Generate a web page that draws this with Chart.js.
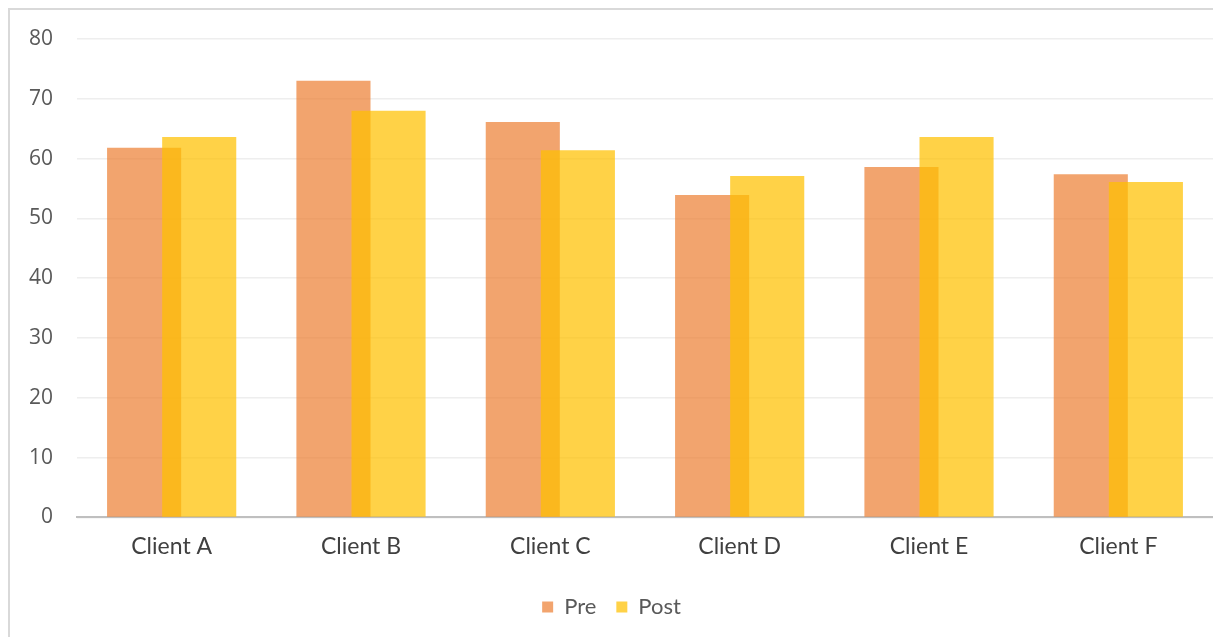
<!DOCTYPE html>
<html>
<head>
<meta charset="utf-8">
<script src="https://cdn.jsdelivr.net/npm/chart.js@4/dist/chart.umd.min.js"></script>
<style>
  html, body { margin: 0; padding: 0; background: #fff; }
  #wrap { position: relative; width: 1213px; height: 637px; }
  #frame { position: absolute; left: 8px; top: 8px; right: -4px; bottom: -4px; border-left: 2px solid #d9d9d9; border-top: 2px solid #d9d9d9; pointer-events: none; }
  canvas { position: absolute; left: 0; top: 0; }
</style>
</head>
<body>
<div id="wrap">
  <canvas id="c" width="1213" height="637"></canvas>
  <div id="frame"></div>
</div>
<script>
const categories = ["Client A", "Client B", "Client C", "Client D", "Client E", "Client F"];
const preValues  = [61.8, 73.0, 66.1, 53.9, 58.6, 57.4];
const postValues = [63.6, 68.0, 61.4, 57.1, 63.6, 56.1];
const seriesNames = ["Pre", "Post"];

// Draw datasets in forward order so that "Post" lies on top of "Pre"
let manualDraw = false;
const drawOrderPlugin = {
  id: 'drawOrder',
  beforeDatasetDraw(chart, args) {
    if (args.index === 1 && !manualDraw) return false;
  },
  afterDatasetsDraw(chart) {
    manualDraw = true;
    const meta = chart.getDatasetMeta(1);
    if (meta.visible !== false) meta.controller.draw();
    manualDraw = false;
  }
};

new Chart(document.getElementById('c'), {
  type: 'bar',
  data: {
    labels: categories,
    datasets: [
      { label: seriesNames[0], data: preValues, backgroundColor: 'rgba(237,125,49,0.7)', borderWidth: 0 },
      { label: seriesNames[1], data: postValues, backgroundColor: 'rgba(255,192,0,0.72)', borderWidth: 0 }
    ]
  },
  plugins: [drawOrderPlugin],
  options: {
    responsive: false,
    animation: false,
    devicePixelRatio: 1,
    categoryPercentage: 0.582,
    barPercentage: 1.345,
    layout: { padding: { left: 10, right: 0, top: 39, bottom: 9 } },
    plugins: {
      legend: {
        position: 'bottom',
        labels: {
          boxWidth: 11, boxHeight: 11, padding: 20,
          color: '#595959',
          font: { family: 'Lato', size: 22 }
        }
      },
      tooltip: { enabled: false }
    },
    scales: {
      x: {
        grid: { display: false, drawTicks: false },
        border: { color: '#bfbfbf', width: 2 },
        ticks: { color: '#404040', font: { family: 'Lato', size: 23 }, padding: 15.5 }
      },
      y: {
        min: 0, max: 80,
        ticks: { stepSize: 10, color: '#595959', font: { family: 'Open Sans', size: 21 }, padding: 24 },
        grid: { color: '#eeeeee', lineWidth: 1.5, drawTicks: false },
        border: { display: false },
        afterFit(scale) { scale.width = 67; }
      }
    }
  }
});
</script>
</body>
</html>
